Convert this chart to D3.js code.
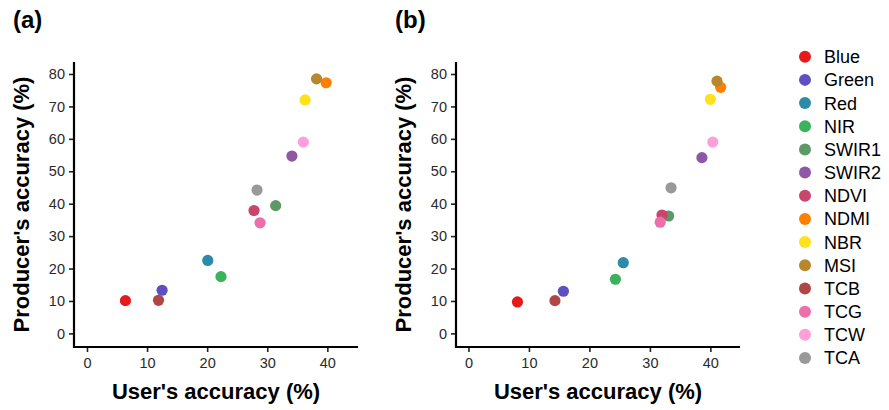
<!DOCTYPE html>
<html>
<head>
<meta charset="utf-8">
<script src="https://cdn.jsdelivr.net/npm/d3@7"></script>
<style>
  html, body { margin: 0; padding: 0; background: #fff; }
  svg { display: block; font-family: "Liberation Sans", Arial, sans-serif; }
</style>
</head>
<body>
<svg id="chart" width="889" height="410"></svg>
<script>
const categories = ["Blue","Green","Red","NIR","SWIR1","SWIR2","NDVI","NDMI","NBR","MSI","TCB","TCG","TCW","TCA"];
const colors = ["#E41A1C","#5E4FC2","#2E8BA8","#3BB25C","#5D9965","#8F58A6","#C8456B","#FF7F00","#FFE21A","#B8862B","#B04646","#EB6FA8","#FC9FDA","#999999"];

// Panel (a)
const usersA     = [6.4, 12.5, 20.1, 22.3, 31.4, 34.1, 27.8, 39.8, 36.3, 38.2, 11.9, 28.8, 36.0, 28.3];
const producersA = [10.1, 13.3, 22.5, 17.5, 39.4, 54.7, 37.9, 77.3, 72.0, 78.5, 10.2, 34.1, 59.0, 44.2];
// Panel (b)
const usersB     = [8.1, 15.7, 25.6, 24.3, 33.1, 38.6, 32.0, 41.7, 40.0, 41.1, 14.3, 31.7, 40.4, 33.5];
const producersB = [9.7, 13.0, 21.8, 16.7, 36.2, 54.2, 36.5, 75.9, 72.2, 77.8, 10.1, 34.3, 59.0, 44.9];

const xTicks = [0, 10, 20, 30, 40];
const yTicks = [0, 10, 20, 30, 40, 50, 60, 70, 80];
const panelLabels = ["(a)", "(b)"];
const xTitle = "User's accuracy (%)";
const yTitle = "Producer's accuracy (%)";

const svg = d3.select("#chart");

const panels = [
  { label: panelLabels[0], xs: usersA, ys: producersA, left: 74, right: 358, xDom: [-2.16, 45.1], labelX: 13 },
  { label: panelLabels[1], xs: usersB, ys: producersB, left: 456, right: 740, xDom: [-2.06, 44.9], labelX: 395 }
];
const plotTop = 62, plotBottom = 347;

panels.forEach(p => {
  const x = d3.scaleLinear().domain(p.xDom).range([p.left, p.right]);
  const y = d3.scaleLinear().domain([-4.2, 83.7]).range([plotBottom, plotTop]);
  const g = svg.append("g");

  // points
  const data = categories.map((c, i) => ({ c, x: p.xs[i], y: p.ys[i], col: colors[i] }));
  g.selectAll("circle.pt").data(data).enter().append("circle")
    .attr("class", "pt")
    .attr("cx", d => x(d.x)).attr("cy", d => y(d.y))
    .attr("r", 5.6).attr("fill", d => d.col);

  // axes
  const xAxis = d3.axisBottom(x).tickValues(xTicks).tickSize(5).tickPadding(4);
  const yAxis = d3.axisLeft(y).tickValues(yTicks).tickSize(5).tickPadding(4);

  const gx = g.append("g").attr("transform", `translate(0,${plotBottom})`).call(xAxis);
  const gy = g.append("g").attr("transform", `translate(${p.left},0)`).call(yAxis);
  [gx, gy].forEach(ax => {
    ax.select(".domain").remove();
    ax.selectAll(".tick line").attr("stroke", "#222").attr("stroke-width", 1.6);
    ax.selectAll(".tick text").attr("fill", "#2a2a2a").style("font-size", "14.5px");
  });
  gx.selectAll(".tick text").attr("dy", "0.82em");

  // axis lines (L shape)
  g.append("path")
    .attr("d", `M${p.left},${plotTop}V${plotBottom}H${p.right}`)
    .attr("fill", "none").attr("stroke", "#000").attr("stroke-width", 2.2);

  // titles
  g.append("text").attr("x", (p.left + p.right) / 2).attr("y", 399)
    .attr("text-anchor", "middle").style("font-size", "22px").style("font-weight", "bold")
    .attr("fill", "#000").text(xTitle);
  g.append("text")
    .attr("transform", `translate(${p.left - 45},${(plotTop + plotBottom) / 2}) rotate(-90)`)
    .attr("text-anchor", "middle").style("font-size", "22px").style("font-weight", "bold")
    .attr("fill", "#000").text(yTitle);

  g.append("text").attr("x", p.labelX).attr("y", 28)
    .style("font-size", "24px").style("font-weight", "bold").attr("fill", "#000")
    .text(p.label);
});

// legend
const leg = svg.append("g");
const ly = d3.scaleLinear().domain([0, categories.length - 1]).range([56.7, 358]);
categories.forEach((c, i) => {
  leg.append("circle").attr("cx", 805).attr("cy", ly(i)).attr("r", 6).attr("fill", colors[i]);
  leg.append("text").attr("x", 824).attr("y", ly(i)).attr("dy", "0.36em")
    .style("font-size", "18px").attr("fill", "#000").text(c);
});
</script>
</body>
</html>
